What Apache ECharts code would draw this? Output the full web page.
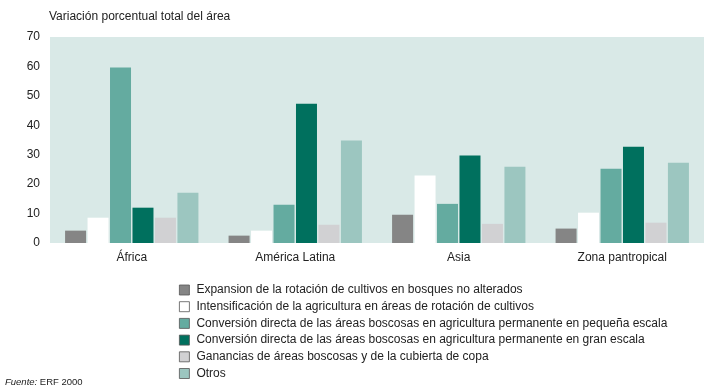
<!DOCTYPE html>
<html><head><meta charset="utf-8">
<script src="https://cdn.jsdelivr.net/npm/echarts@6/dist/echarts.min.js"></script>
<style>html,body{margin:0;padding:0;background:#fff}#c{width:725px;height:390px}</style>
</head><body><div id="c"></div>
<script>
const categories = ['África', 'América Latina', 'Asia', 'Zona pantropical'];
const seriesNames = [
  'Expansion de la rotación de cultivos en bosques no alterados',
  'Intensificación de la agricultura en áreas de rotación de cultivos',
  'Conversión directa de las áreas boscosas en agricultura permanente en pequeña escala',
  'Conversión directa de las áreas boscosas en agricultura permanente en gran escala',
  'Ganancias de áreas boscosas y de la cubierta de copa',
  'Otros'
];
const expansion = [4.2, 2.5, 9.6, 4.9];
const intensificacion = [8.6, 4.2, 22.9, 10.3];
const pequena = [59.6, 13.0, 13.3, 25.2];
const gran = [12.0, 47.3, 29.7, 32.7];
const ganancias = [8.6, 6.2, 6.5, 6.9];
const otros = [17.1, 34.8, 25.9, 27.3];
const yTicks = [0, 10, 20, 30, 40, 50, 60, 70];

const values = [expansion, intensificacion, pequena, gran, ganancias, otros];
const colors = ['#858585', '#ffffff', '#64aba0', '#00705e', '#d1d1d3', '#9cc6c0'];
const font = 'Liberation Sans, Arial, sans-serif';

const chart = echarts.init(document.getElementById('c'), null, {renderer: 'canvas'});
chart.setOption({
  animation: false,
  textStyle: {fontFamily: font},
  title: {
    text: 'Variación porcentual total del área',
    left: 44, top: 6,
    textStyle: {fontFamily: font, fontSize: 12, fontWeight: 'normal', color: '#222'}
  },
  graphic: [{
    type: 'text', left: 5, top: 377,
    style: {
      text: '{i|Fuente:} ERF 2000',
      rich: {i: {fontStyle: 'italic', fontFamily: font, fontSize: 9.5, fill: '#222'}},
      fontFamily: font, fontSize: 9.5, fill: '#222'
    }
  }],
  legend: {
    orient: 'vertical', left: 174, top: 279, height: 110,
    itemWidth: 10, itemHeight: 10, itemGap: 4.7,
    icon: 'rect',
    data: seriesNames,
    textStyle: {fontFamily: font, fontSize: 12, color: '#222', padding: [0, 0, 0, 2]},
    itemStyle: {borderColor: '#555', borderWidth: 0.8}
  },
  grid: {
    left: 50, right: 21, top: 37, bottom: 147,
    show: true, backgroundColor: '#d9e9e7', borderWidth: 0
  },
  xAxis: {
    type: 'category', data: categories,
    axisLine: {show: false}, axisTick: {show: false},
    axisLabel: {fontFamily: font, fontSize: 12, color: '#222', margin: 9}
  },
  yAxis: {
    type: 'value', min: yTicks[0], max: yTicks[yTicks.length - 1], interval: 10,
    splitLine: {show: false}, axisLine: {show: false}, axisTick: {show: false},
    axisLabel: {fontFamily: font, fontSize: 12, color: '#222', margin: 10}
  },
  series: seriesNames.map((n, i) => ({
    name: n, type: 'bar', data: values[i],
    barWidth: 21, barGap: '7%',
    itemStyle: {color: colors[i]}
  }))
});
</script></body></html>
